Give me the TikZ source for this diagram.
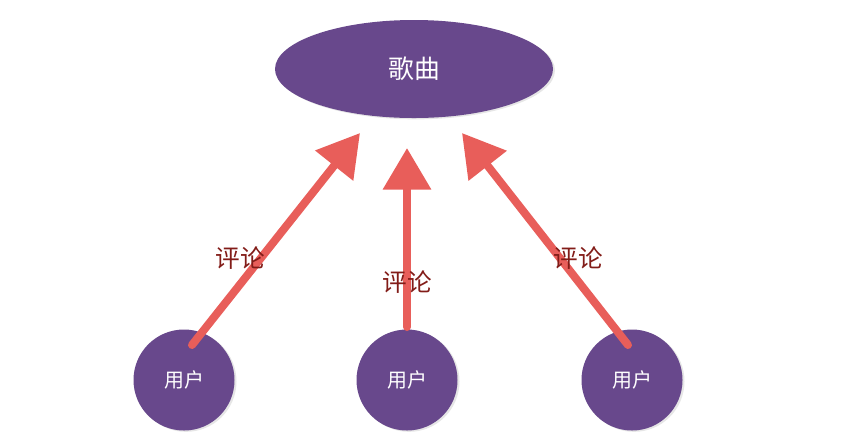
\documentclass[tikz,border=0pt]{standalone}
\usepackage{fontspec}
\usepackage{xcolor}
\usepackage{tikz}
\usetikzlibrary{arrows.meta,positioning,shapes.geometric,shadows}
\newfontfamily\cjk{Noto Sans CJK SC}
\definecolor{songpurple}{RGB}{104,72,140}
\definecolor{crayonred}{RGB}{232,94,90}
\definecolor{labelred}{RGB}{130,28,24}

\begin{document}
\begin{tikzpicture}[
    x=0.03cm, y=-0.03cm,
    song/.style={ellipse, fill=songpurple, minimum width=8.34cm, minimum height=2.94cm,
                 inner sep=0pt, font=\cjk\fontsize{22}{22}\selectfont, text=white,
                 drop shadow={opacity=0.2, shadow xshift=0.06cm, shadow yshift=-0.04cm}},
    user/.style={circle, fill=songpurple, minimum size=3.03cm, inner sep=0pt,
                 font=\cjk\fontsize{17}{17}\selectfont, text=white,
                 drop shadow={opacity=0.2, shadow xshift=0.06cm, shadow yshift=-0.04cm}},
    comment/.style={font=\cjk\fontsize{21}{21}\selectfont, text=labelred},
    arr/.style={-{Triangle[length=1.25cm, width=1.4cm]}, crayonred, line width=0.24cm,
                line cap=round}]
\useasboundingbox (0,0) rectangle (850,435);
\node[song] (song) at (414,69) {歌曲};
\node[user] (u1) at (184,380) {用户};
\node[user] (u2) at (407,380) {用户};
\node[user] (u3) at (632,380) {用户};
\coordinate (t1) at (360,133);
\coordinate (t2) at (407,148);
\coordinate (t3) at (462,133);
\draw[arr] ([shift={(8,-35)}]u1.center) -- (t1);
\draw[arr] ([shift={(0,-53)}]u2.center) -- (t2);
\draw[arr] ([shift={(-4,-35)}]u3.center) -- (t3);
\node[comment] (c1) at (240,258) {评论};
\node[comment] (c2) at (407,282) {评论};
\node[comment] (c3) at (578,258) {评论};
\end{tikzpicture}
\end{document}
